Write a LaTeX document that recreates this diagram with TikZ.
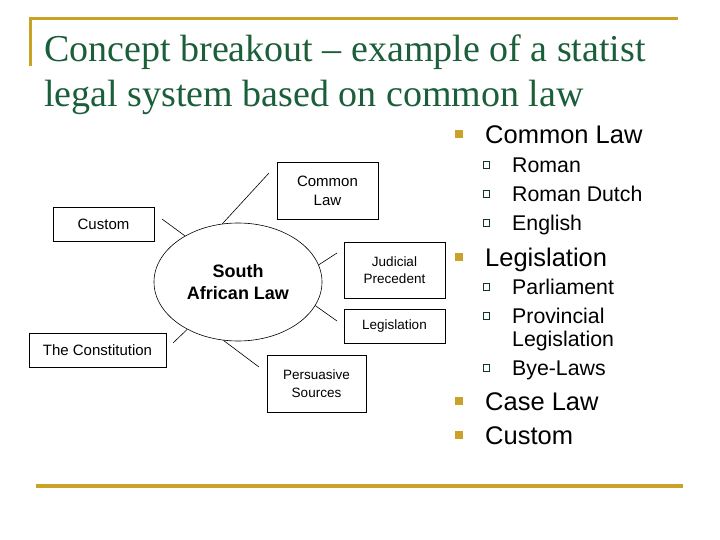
\documentclass[tikz,border=0pt]{standalone}
\usepackage{fontspec}
\setmainfont{Liberation Serif}
\setsansfont{Liberation Sans}
\usepackage{xcolor}
\usepackage{tikz}
\usetikzlibrary{shapes, positioning}

\definecolor{titlegreen}{HTML}{1B5E3A}
\definecolor{slidegold}{HTML}{C9A227}

\begin{document}
\begin{tikzpicture}[
            x=1pt, y=-1pt,
            title/.style={anchor=base west, inner sep=0pt, text=titlegreen, font=\fontsize{38}{45}\selectfont},
            srcbox/.style={rectangle, draw, line width=0.6pt, align=center, inner sep=0pt, font=\sffamily\fontsize{15}{19}\selectfont},
            smallbox/.style={srcbox, font=\sffamily\fontsize{13.5}{17.5}\selectfont},
            link/.style={line width=0.6pt},
            mainitem/.style={anchor=west, inner sep=0pt, text height=18.5pt, text depth=0pt, font=\sffamily\fontsize{25.5}{30}\selectfont},
            subitem/.style={anchor=west, inner sep=0pt, text height=15.5pt, text depth=0pt, font=\sffamily\fontsize{21.3}{25}\selectfont},
            mainbul/.style={rectangle, fill=slidegold, minimum size=8pt, inner sep=0pt},
            subbul/.style={rectangle, draw=titlegreen!60!black, fill=white, line width=0.7pt, minimum size=6.5pt, inner sep=0pt}
        ]
            \useasboundingbox (0,0) rectangle (720,540);

            % slide frame
            \draw[slidegold, line width=3pt] (30,18.5) -- (678,18.5);
            \draw[slidegold, line width=3pt] (30,17) -- (30,66);
            \draw[slidegold, line width=3.5pt] (36,486) -- (683,486);

            \node[title] (title1) at (44,62) {Concept breakout – example of a statist};
            \node[title] (title2) at (44,107) {legal system based on common law};

            % diagram
            \node[ellipse, draw, line width=0.6pt, minimum width=168pt, minimum height=118pt, inner sep=0pt, align=center,
                  font=\sffamily\bfseries\fontsize{18}{22}\selectfont] (sal) at (238,282) {South\\African Law};
            \node[srcbox, minimum width=101pt, minimum height=57pt] (common) at (327.5,190.5) {Common\\Law};
            \node[srcbox, minimum width=101pt, minimum height=34pt] (custom) at (103.5,224) {Custom};
            \node[smallbox, minimum width=101pt, minimum height=56pt] (judicial) at (394.5,270) {Judicial\\Precedent};
            \node[smallbox, minimum width=101pt, minimum height=34pt] (legis) at (394.5,326) {Legislation};
            \node[srcbox, minimum width=137pt, minimum height=34pt] (constit) at (97.5,350) {The Constitution};
            \node[smallbox, minimum width=99pt, minimum height=57pt] (persuasive) at (316.5,383.5) {Persuasive\\Sources};

            \coordinate (commonend) at (269,173);
            \coordinate (customend) at (162,219);
            \coordinate (judicialend) at (337,253);
            \coordinate (legisend) at (337,321);
            \coordinate (constitend) at (173,343);
            \coordinate (persuasiveend) at (259,367);

            \draw[link] (sal.105) -- (commonend);
            \draw[link] (sal.139) -- (customend);
            \draw[link] (sal.12) -- (judicialend);
            \draw[link] (sal.-17) -- (legisend);
            \draw[link] (sal.223) -- (constitend);
            \draw[link] (sal.256) -- (persuasiveend);

            % bullet list
            \node[mainitem] (lcommon) at (485,134) {Common Law};
            \node[subitem] (lroman) at (512,165) {Roman};
            \node[subitem] (ldutch) at (512,194) {Roman Dutch};
            \node[subitem] (lenglish) at (512,223) {English};
            \node[mainitem] (llegis) at (485,257) {Legislation};
            \node[subitem] (lparl) at (512,287) {Parliament};
            \node[subitem] (lprov) at (512,316) {Provincial};
            \node[subitem] (lprovb) at (512,339) {Legislation};
            \node[subitem] (lbye) at (512,368) {Bye-Laws};
            \node[mainitem] (lcase) at (485,401) {Case Law};
            \node[mainitem] (lcustom) at (485,435) {Custom};

            \node[mainbul, left=22pt of lcommon] (b1) {};
            \node[subbul, left=22pt of lroman] (b2) {};
            \node[subbul, left=22pt of ldutch] (b3) {};
            \node[subbul, left=22pt of lenglish] (b4) {};
            \node[mainbul, left=22pt of llegis] (b5) {};
            \node[subbul, left=22pt of lparl] (b6) {};
            \node[subbul, left=22pt of lprov] (b7) {};
            \node[subbul, left=22pt of lbye] (b8) {};
            \node[mainbul, left=22pt of lcase] (b9) {};
            \node[mainbul, left=22pt of lcustom] (b10) {};
        \end{tikzpicture}
\end{document}
